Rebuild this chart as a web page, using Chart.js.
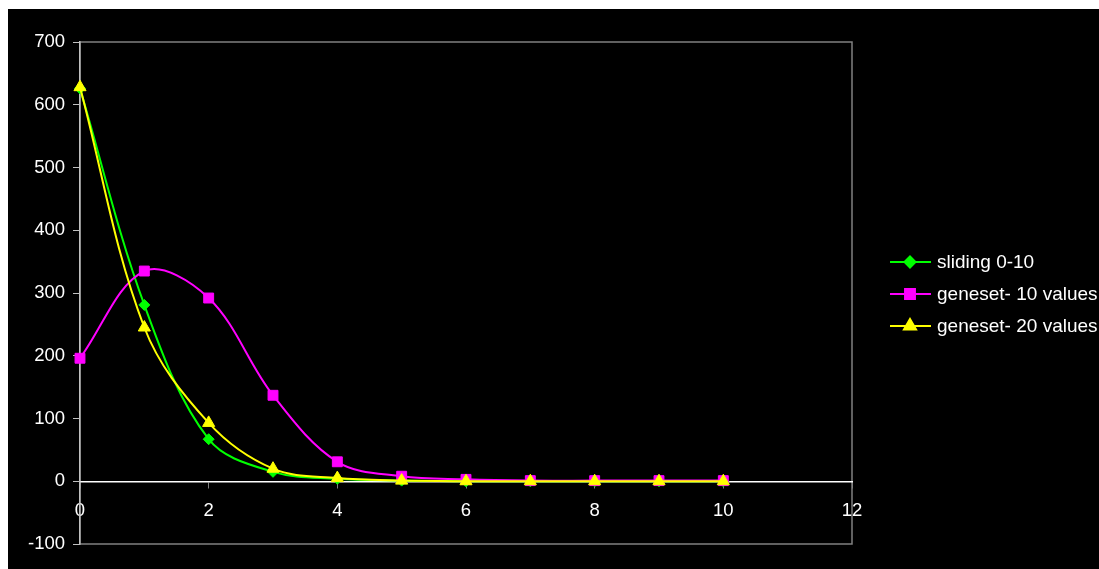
<!DOCTYPE html>
<html>
<head>
<meta charset="utf-8">
<script src="https://cdn.jsdelivr.net/npm/chart.js@4"></script>
<style>
    html, body { margin: 0; padding: 0; background: #fff; }
    #wrap { width: 1099px; height: 569px; }
</style>
</head>
<body>
<div id="wrap"><canvas id="chart" width="1099" height="569"></canvas></div>
<script>
// values
const xValues = [0, 1, 2, 3, 4, 5, 6, 7, 8, 9, 10];
const sliding = [626, 281, 67, 15, 4, 1, 0, 0, 0, 0, 0];
const geneset10 = [196, 335, 292, 137, 31, 8, 3, 1, 1, 1, 1];
const geneset20 = [628, 245, 93, 20, 5, 1, 0, 0, 0, 0, 0];
const seriesNames = ['sliding 0-10', 'geneset- 10 values', 'geneset- 20 values'];
const yTicks = [-100, 0, 100, 200, 300, 400, 500, 600, 700];
const xTicks = [0, 2, 4, 6, 8, 10, 12];

const FONT = '"Liberation Sans", Arial, sans-serif';

const toPoints = (vals) => vals.map((v, i) => ({ x: xValues[i], y: v }));

// black frame + gray plot border
const background = {
    id: 'background',
    beforeDraw(chart) {
        const ctx = chart.ctx;
        ctx.save();
        ctx.fillStyle = '#fff';
        ctx.fillRect(0, 0, chart.width, chart.height);
        ctx.fillStyle = '#000';
        ctx.fillRect(8, 9, chart.width - 8, chart.height - 9);
        const a = chart.chartArea;
        ctx.strokeStyle = '#808080';
        ctx.lineWidth = 1.5;
        ctx.strokeRect(a.left, a.top, a.right - a.left, a.bottom - a.top);
        ctx.restore();
    }
};

// legend drawn like Excel: short line with the marker in the middle
const sideLegend = {
    id: 'sideLegend',
    afterDraw(chart) {
        const ctx = chart.ctx;
        ctx.save();
        ctx.font = '19px ' + FONT;
        ctx.textBaseline = 'middle';
        chart.data.datasets.forEach((ds, i) => {
            const y = 262 + i * 32;
            ctx.strokeStyle = ds.borderColor;
            ctx.lineWidth = 2;
            ctx.beginPath();
            ctx.moveTo(890, y);
            ctx.lineTo(931, y);
            ctx.stroke();
            ctx.fillStyle = ds.pointBackgroundColor;
            Chart.helpers.drawPoint(ctx, {
                pointStyle: ds.pointStyle,
                radius: ds.pointRadius,
                borderWidth: 1
            }, 910, y);
            ctx.fillStyle = '#fff';
            ctx.fillText(ds.label, 937, y + 1);
        });
        ctx.restore();
    }
};

function makeSet(label, vals, color, style, radius, order) {
    return {
        label: label,
        data: toPoints(vals),
        borderColor: color,
        backgroundColor: color,
        pointBackgroundColor: color,
        pointBorderColor: color,
        pointStyle: style,
        pointRadius: radius,
        pointBorderWidth: 1,
        borderWidth: 2,
        tension: 0.35,
        clip: false,
        order: order
    };
}

new Chart(document.getElementById('chart'), {
    type: 'line',
    data: {
        datasets: [
            makeSet(seriesNames[0], sliding, '#00ff00', 'rectRot', 5.5, 3),
            makeSet(seriesNames[1], geneset10, '#ff00ff', 'rect', 7, 2),
            makeSet(seriesNames[2], geneset20, '#ffff00', 'triangle', 7, 1)
        ]
    },
    plugins: [background, sideLegend],
    options: {
        responsive: false,
        animation: false,
        layout: { padding: { left: 0, top: 42, right: 247, bottom: 25 } },
        plugins: { legend: { display: false }, tooltip: { enabled: false } },
        scales: {
            x: {
                type: 'linear',
                position: { y: 0 },
                min: 0,
                max: 12,
                afterBuildTicks: (s) => { s.ticks = xTicks.map(v => ({ value: v })); },
                ticks: { color: '#fff', font: { family: FONT, size: 18.5 }, padding: 13, maxRotation: 0 },
                grid: { drawOnChartArea: false, drawTicks: true, tickLength: 6, color: '#808080' },
                border: { color: '#ffffff', width: 1.5 }
            },
            y: {
                type: 'linear',
                min: -100,
                max: 700,
                afterBuildTicks: (s) => { s.ticks = yTicks.map(v => ({ value: v })); },
                afterFit: (s) => { s.width = 80; },
                ticks: { color: '#fff', font: { family: FONT, size: 18.5 }, padding: 8 },
                grid: { drawOnChartArea: false, drawTicks: true, tickLength: 7, color: '#c0c0c0' },
                border: { color: '#c0c0c0', width: 1.5 }
            }
        }
    }
});
</script>
</body>
</html>
